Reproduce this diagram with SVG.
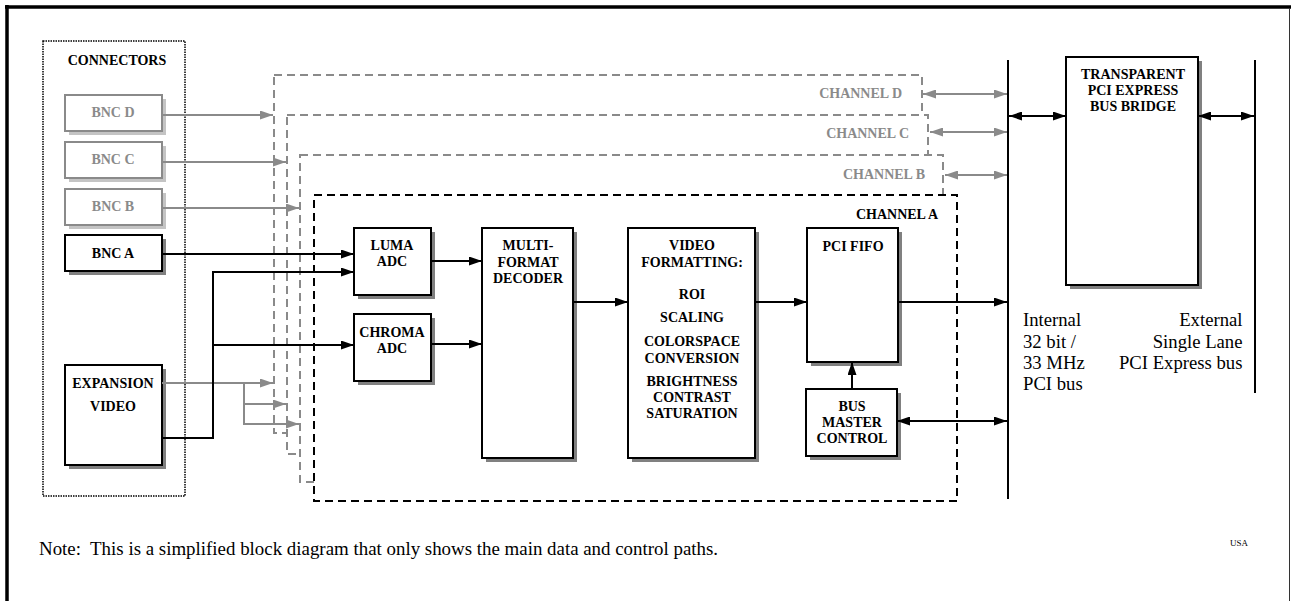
<svg xmlns="http://www.w3.org/2000/svg" width="1291" height="601" viewBox="0 0 1291 601">
<style>
text{font-family:"Liberation Serif","Times New Roman",serif}
.b{font-weight:bold;font-size:14px;text-anchor:middle;fill:#000}
.bg{font-weight:bold;font-size:14px;text-anchor:middle;fill:#8a8a8a}
.ch{font-weight:bold;font-size:14px;text-anchor:end;fill:#8a8a8a}
.r{font-size:18.7px;fill:#000}
.box{fill:#fff;stroke:#000;stroke-width:2}
.sh{fill:#808080}
.gbox{fill:#fff;stroke:#8a8a8a;stroke-width:2}
.gsh{fill:#c4c4c4}
.chg{fill:#fff;stroke:#8a8a8a;stroke-width:2;stroke-dasharray:8 5}
.cha{fill:#fff;stroke:#000;stroke-width:2;stroke-dasharray:8 5}
.k{fill:none;stroke:#000;stroke-width:2;marker-end:url(#ak)}
.kk{fill:none;stroke:#000;stroke-width:2;marker-end:url(#ak);marker-start:url(#ak)}
.g{fill:none;stroke:#8a8a8a;stroke-width:2;marker-end:url(#ag)}
.gg{fill:none;stroke:#8a8a8a;stroke-width:2;marker-end:url(#ag);marker-start:url(#ag)}
.bus{stroke:#000;stroke-width:2}
</style>
<defs>
<marker id="ak" markerUnits="userSpaceOnUse" markerWidth="13" markerHeight="9" refX="13" refY="4.5" orient="auto-start-reverse"><path d="M0,0 L13,4.5 L0,9 z" fill="#000"/></marker>
<marker id="ag" markerUnits="userSpaceOnUse" markerWidth="13" markerHeight="9" refX="13" refY="4.5" orient="auto-start-reverse"><path d="M0,0 L13,4.5 L0,9 z" fill="#8a8a8a"/></marker>
</defs>
<rect width="1291" height="601" fill="#fff"/>
<!-- frame -->
<line x1="5" y1="7" x2="1291" y2="7" stroke="#000" stroke-width="3.5"/>
<line x1="7" y1="5" x2="7" y2="601" stroke="#000" stroke-width="3.5"/>
<line x1="1289.5" y1="8" x2="1289.5" y2="601" stroke="#333" stroke-width="1"/>

<g id="connectors-panel">
<rect x="43" y="41" width="142" height="455" fill="none" stroke="#000" stroke-width="1.5" stroke-dasharray="1.5 1"/>
<text class="b" x="117" y="64.5">CONNECTORS</text>
</g>
<g id="bnc-d"><rect class="gsh" x="69" y="99" width="97" height="36"/><rect class="gbox" x="65" y="95" width="97" height="36"/><text class="bg" x="113" y="116.5">BNC D</text></g>
<g id="bnc-c"><rect class="gsh" x="69" y="146" width="97" height="36"/><rect class="gbox" x="65" y="142" width="97" height="36"/><text class="bg" x="113" y="164">BNC C</text></g>
<g id="bnc-b"><rect class="gsh" x="69" y="193" width="97" height="36"/><rect class="gbox" x="65" y="189" width="97" height="36"/><text class="bg" x="113" y="210.5">BNC B</text></g>
<g id="bnc-a"><rect class="sh" x="69" y="239" width="97" height="36"/><rect class="box" x="65" y="235" width="97" height="36"/><text class="b" x="113" y="257.5">BNC A</text></g>
<g id="expansion-video"><rect class="sh" x="69" y="369" width="97" height="100"/><rect class="box" x="65" y="365" width="97" height="100"/><text class="b" x="113" y="387.5">EXPANSION</text><text class="b" x="113" y="410.5">VIDEO</text></g>

<g id="channel-d"><rect class="chg" x="274" y="75" width="648" height="358"/><text class="ch" x="902" y="98">CHANNEL D</text></g>
<g id="channel-c"><rect class="chg" x="287" y="115" width="641" height="339"/><text class="ch" x="909" y="137.5">CHANNEL C</text></g>
<g id="channel-b"><rect class="chg" x="300" y="155" width="643" height="327"/><text class="ch" x="925" y="179">CHANNEL B</text></g>
<g id="channel-a"><rect class="cha" x="314" y="195" width="643" height="306"/><text class="b" x="938" y="219" style="text-anchor:end">CHANNEL A</text></g>

<g id="luma-adc"><rect class="sh" x="358" y="232" width="77" height="67"/><rect class="box" x="354" y="228" width="77" height="67"/><text class="b" x="392" y="250">LUMA</text><text class="b" x="392" y="266">ADC</text></g>
<g id="chroma-adc"><rect class="sh" x="358" y="318" width="77" height="67"/><rect class="box" x="354" y="314" width="77" height="67"/><text class="b" x="392" y="336.5">CHROMA</text><text class="b" x="392" y="352.5">ADC</text></g>
<g id="decoder"><rect class="sh" x="486" y="232" width="91" height="230"/><rect class="box" x="482" y="228" width="91" height="230"/><text class="b" x="528" y="250">MULTI-</text><text class="b" x="528" y="266.5">FORMAT</text><text class="b" x="528" y="283">DECODER</text></g>
<g id="video-formatting"><rect class="sh" x="632" y="232" width="127" height="230"/><rect class="box" x="628" y="228" width="127" height="230"/>
<text class="b" x="692" y="250">VIDEO</text><text class="b" x="692" y="266.5">FORMATTING:</text><text class="b" x="692" y="299">ROI</text><text class="b" x="692" y="321.5">SCALING</text><text class="b" x="692" y="346">COLORSPACE</text><text class="b" x="692" y="362.5">CONVERSION</text><text class="b" x="692" y="386">BRIGHTNESS</text><text class="b" x="692" y="402">CONTRAST</text><text class="b" x="692" y="417.5">SATURATION</text></g>
<g id="pci-fifo"><rect class="sh" x="811" y="232" width="91" height="134"/><rect class="box" x="807" y="228" width="91" height="134"/><text class="b" x="853" y="250.5">PCI FIFO</text></g>
<g id="bus-master"><rect class="sh" x="810" y="393" width="91" height="67"/><rect class="box" x="806" y="389" width="91" height="67"/><text class="b" x="852" y="410.5">BUS</text><text class="b" x="852" y="426.5">MASTER</text><text class="b" x="852" y="443">CONTROL</text></g>

<g id="pci-bus"><line class="bus" x1="1008" y1="60" x2="1008" y2="499"/><text class="r" x="1023" y="326">Internal</text><text class="r" x="1023" y="347.5">32 bit /</text><text class="r" x="1023" y="368.5">33 MHz</text><text class="r" x="1023" y="390">PCI bus</text></g>
<g id="bridge"><rect class="sh" x="1070" y="61" width="132" height="228"/><rect class="box" x="1066" y="57" width="132" height="228"/><text class="b" x="1133" y="78.5">TRANSPARENT</text><text class="b" x="1133" y="95">PCI EXPRESS</text><text class="b" x="1133" y="111">BUS BRIDGE</text></g>
<g id="pcie-bus"><line class="bus" x1="1255" y1="60" x2="1255" y2="393"/><text class="r" x="1242.5" y="326" text-anchor="end">External</text><text class="r" x="1242.5" y="347.5" text-anchor="end">Single Lane</text><text class="r" x="1242.5" y="368.5" text-anchor="end">PCI Express bus</text></g>

<g id="edges">
<path class="g" d="M162,115 H273"/>
<path class="g" d="M162,162 H286"/>
<path class="g" d="M162,208 H299"/>
<path class="g" d="M162,383 H273"/>
<path class="g" d="M244,383 V404 H286"/>
<path class="g" d="M244,404 V424 H299"/>
<path class="gg" d="M923,94 H1007"/>
<path class="gg" d="M930,132 H1007"/>
<path class="gg" d="M945,175 H1007"/>
<path class="k" d="M162,254 H354"/>
<path class="k" d="M162,438 H213 V272 H354"/>
<path class="k" d="M213,345 H354"/>
<path class="k" d="M431,261 H482"/>
<path class="k" d="M431,344 H482"/>
<path class="k" d="M573,302 H628"/>
<path class="k" d="M755,302 H807"/>
<path class="k" d="M898,302 H1007"/>
<path class="k" d="M852,389 V362"/>
<path class="kk" d="M897,421 H1007"/>
<path class="kk" d="M1009,116 H1066"/>
<path class="kk" d="M1198,116 H1254"/>
</g>

<text class="r" x="39" y="555" style="white-space:pre;font-size:18.9px" xml:space="preserve">Note:  This is a simplified block diagram that only shows the main data and control paths.</text>
<text x="1230" y="546" font-size="9" font-family="Liberation Serif, serif">USA</text>
</svg>
